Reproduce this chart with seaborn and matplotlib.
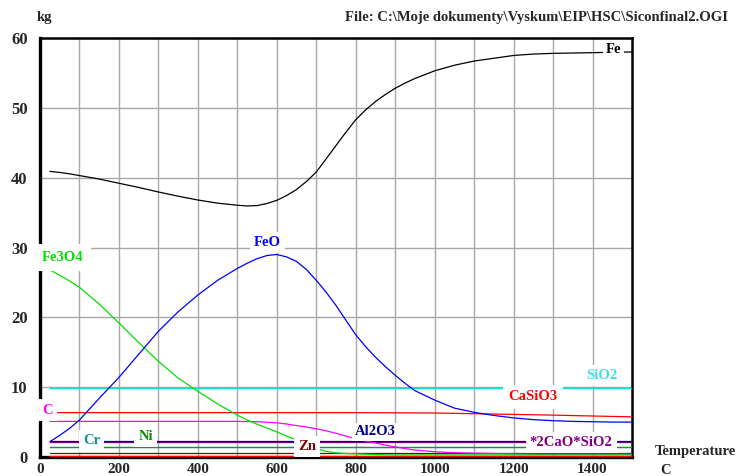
import matplotlib
matplotlib.use("Agg")
import matplotlib.pyplot as plt
import seaborn as sns
import pandas as pd

# ---------------- data ----------------
T = [25, 50, 75, 100, 150, 200, 250, 300, 350, 400, 450, 500, 525, 550, 575,
     600, 625, 650, 675, 700, 725, 750, 775, 800, 825, 850, 875, 900, 925,
     950, 1000, 1050, 1100, 1150, 1200, 1250, 1300, 1350, 1400, 1450, 1500]

fe = [40.9, 40.75, 40.55, 40.3, 39.8, 39.2, 38.6, 37.95, 37.35, 36.8, 36.35,
      36.05, 35.95, 36.0, 36.3, 36.75, 37.45, 38.3, 39.45, 40.8, 42.7, 44.6,
      46.5, 48.3, 49.7, 50.9, 51.9, 52.8, 53.55, 54.2, 55.3, 56.1, 56.7, 57.1,
      57.5, 57.7, 57.8, 57.85, 57.9, 57.95, 58.0]

feo = [2.2, 3.1, 4.1, 5.3, 8.4, 11.4, 14.7, 18.0, 20.8, 23.2, 25.3, 27.0,
       27.75, 28.4, 28.85, 29.0, 28.65, 28.0, 26.85, 25.3, 23.6, 21.7, 19.6,
       17.5, 15.8, 14.3, 12.95, 11.7, 10.55, 9.5, 8.15, 7.0, 6.4, 5.95, 5.6,
       5.35, 5.2, 5.1, 5.05, 5.0, 5.0]

fe3o4 = [26.8, 26.0, 25.2, 24.3, 21.9, 19.2, 16.4, 13.7, 11.3, 9.4, 7.6, 6.0,
         5.3, 4.7, 4.15, 3.6, 3.0, 2.4, 1.8, 1.2, 0.8, 0.6, 0.5, 0.45, 0.4,
         0.35, 0.32, 0.3, 0.3, 0.3, 0.3, 0.3, 0.3, 0.3, 0.3, 0.3, 0.3, 0.3,
         0.3, 0.3, 0.3]

c_vals = [5.1, 5.1, 5.1, 5.1, 5.1, 5.1, 5.1, 5.1, 5.1, 5.1, 5.1, 5.1, 5.08,
          5.05, 4.98, 4.9, 4.72, 4.5, 4.3, 4.05, 3.75, 3.4, 3.0, 2.6, 2.3,
          2.0, 1.7, 1.45, 1.2, 1.0, 0.75, 0.62, 0.55, 0.5, 0.45, 0.4, 0.4,
          0.4, 0.4, 0.4, 0.4]

T_casio3 = [25, 800, 1000, 1100, 1200, 1300, 1400, 1500]
casio3 = [6.35, 6.35, 6.3, 6.2, 6.1, 6.0, 5.87, 5.75]

T_flat = [25, 1500]
sio2 = [9.85, 9.85]
al2o3 = [2.25, 2.25]
ca2sio4 = [2.15, 2.15]
cr = [1.5, 1.5]
ni = [1.42, 1.42]
zn = [0.55, 0.55]
other = [0.2, 0.2]

x_ticks = [0, 200, 400, 600, 800, 1000, 1200, 1400]
y_ticks = [0, 10, 20, 30, 40, 50, 60]

# ---------------- style ----------------
sns.set_style("white")
plt.rcParams["font.family"] = ["Liberation Serif", "DejaVu Serif"]
plt.rcParams["font.weight"] = "bold"

fig = plt.figure(figsize=(7.38, 4.76), dpi=100)
ax = fig.add_axes([40 / 738, 19 / 476, 592 / 738, 419 / 476])

series = [
    ("other", T_flat, other, "#ff0000"),
    ("Zn", T_flat, zn, "#800000"),
    ("Ni", T_flat, ni, "#009000"),
    ("Cr", T_flat, cr, "#008c8c"),
    ("*2CaO*SiO2", T_flat, ca2sio4, "#800080"),
    ("Al2O3", T_flat, al2o3, "#000090"),
    ("SiO2", T_flat, sio2, "#00e0e0"),
    ("CaSiO3", T_casio3, casio3, "#ff0000"),
    ("C", T, c_vals, "#ff00ff"),
    ("Fe3O4", T, fe3o4, "#00e000"),
    ("FeO", T, feo, "#0000ff"),
    ("Fe", T, fe, "#000000"),
]

for name, xs, ys, col in series:
    df = pd.DataFrame({"T": xs, "kg": ys})
    sns.lineplot(data=df, x="T", y="kg", color=col, linewidth=0.9, ax=ax,
                 zorder=3, sort=False)

ax.set_xlim(0, 1500)
ax.set_ylim(0, 60)
ax.set_xticks(x_ticks)
ax.set_xticks(list(range(100, 1500, 100)), minor=True)
ax.set_yticks(y_ticks)
ax.set_xticklabels([str(v) for v in x_ticks])
ax.set_yticklabels([str(v) for v in y_ticks])
ax.set_xlabel("")
ax.set_ylabel("")
ax.grid(True, which="both", color="#a8a8a8", linewidth=1.0, zorder=0)
ax.set_axisbelow(True)
ax.tick_params(axis="both", which="both", length=0)
ax.tick_params(axis="x", labelsize=11, pad=4)
ax.tick_params(axis="y", labelsize=12, pad=9)
for lab in ax.get_xticklabels() + ax.get_yticklabels():
    lab.set_fontweight("bold")

for side in ["left", "bottom"]:
    ax.spines[side].set_linewidth(2.4)
    ax.spines[side].set_color("black")
for side in ["top", "right"]:
    ax.spines[side].set_linewidth(1.8)
    ax.spines[side].set_color("black")
    ax.spines[side].set_visible(True)

# ---------------- in-plot labels ----------------
labels = [
    ("Fe", 1452, 58.3, "#000000", 2),
    ("FeO", 576, 30.7, "#0000ff", 3),
    ("Fe3O4", 58, 28.5, "#00e000", 5),
    ("SiO2", 1424, 11.7, "#40e0e0", 3),
    ("CaSiO3", 1249, 8.6, "#ff0000", 4),
    ("C", 20, 6.7, "#ff00ff", 3),
    ("Cr", 131, 2.3, "#109090", 3),
    ("Ni", 268, 3.0, "#108a10", 3),
    ("Al2O3", 850, 3.6, "#000090", 2),
    ("Zn", 677, 1.5, "#800000", 3),
    ("*2CaO*SiO2", 1346, 2.05, "#800080", 3),
]
for txt, x, y, col, pad in labels:
    ax.text(x, y, txt, color=col, fontsize=10.5, fontweight="bold",
            ha="center", va="center", zorder=6, clip_on=False,
            bbox=dict(facecolor="white", edgecolor="none", pad=pad))

# ---------------- figure texts ----------------
fig.text(37 / 738, 1 - 17 / 476, "kg", fontsize=10.5, fontweight="bold",
         ha="left", va="center")
fig.text(728 / 738, 1 - 17 / 476,
         "File: C:\\Moje dokumenty\\Vyskum\\EIP\\HSC\\Siconfinal2.OGI",
         fontsize=10.5, fontweight="bold", ha="right", va="center")
fig.text(655 / 738, 1 - 451 / 476, "Temperature", fontsize=10.5,
         fontweight="bold", ha="left", va="center")
fig.text(660 / 738, 1 - 470 / 476, "C", fontsize=10.5, fontweight="bold",
         ha="left", va="center")

fig.savefig("out.png", dpi=100)
